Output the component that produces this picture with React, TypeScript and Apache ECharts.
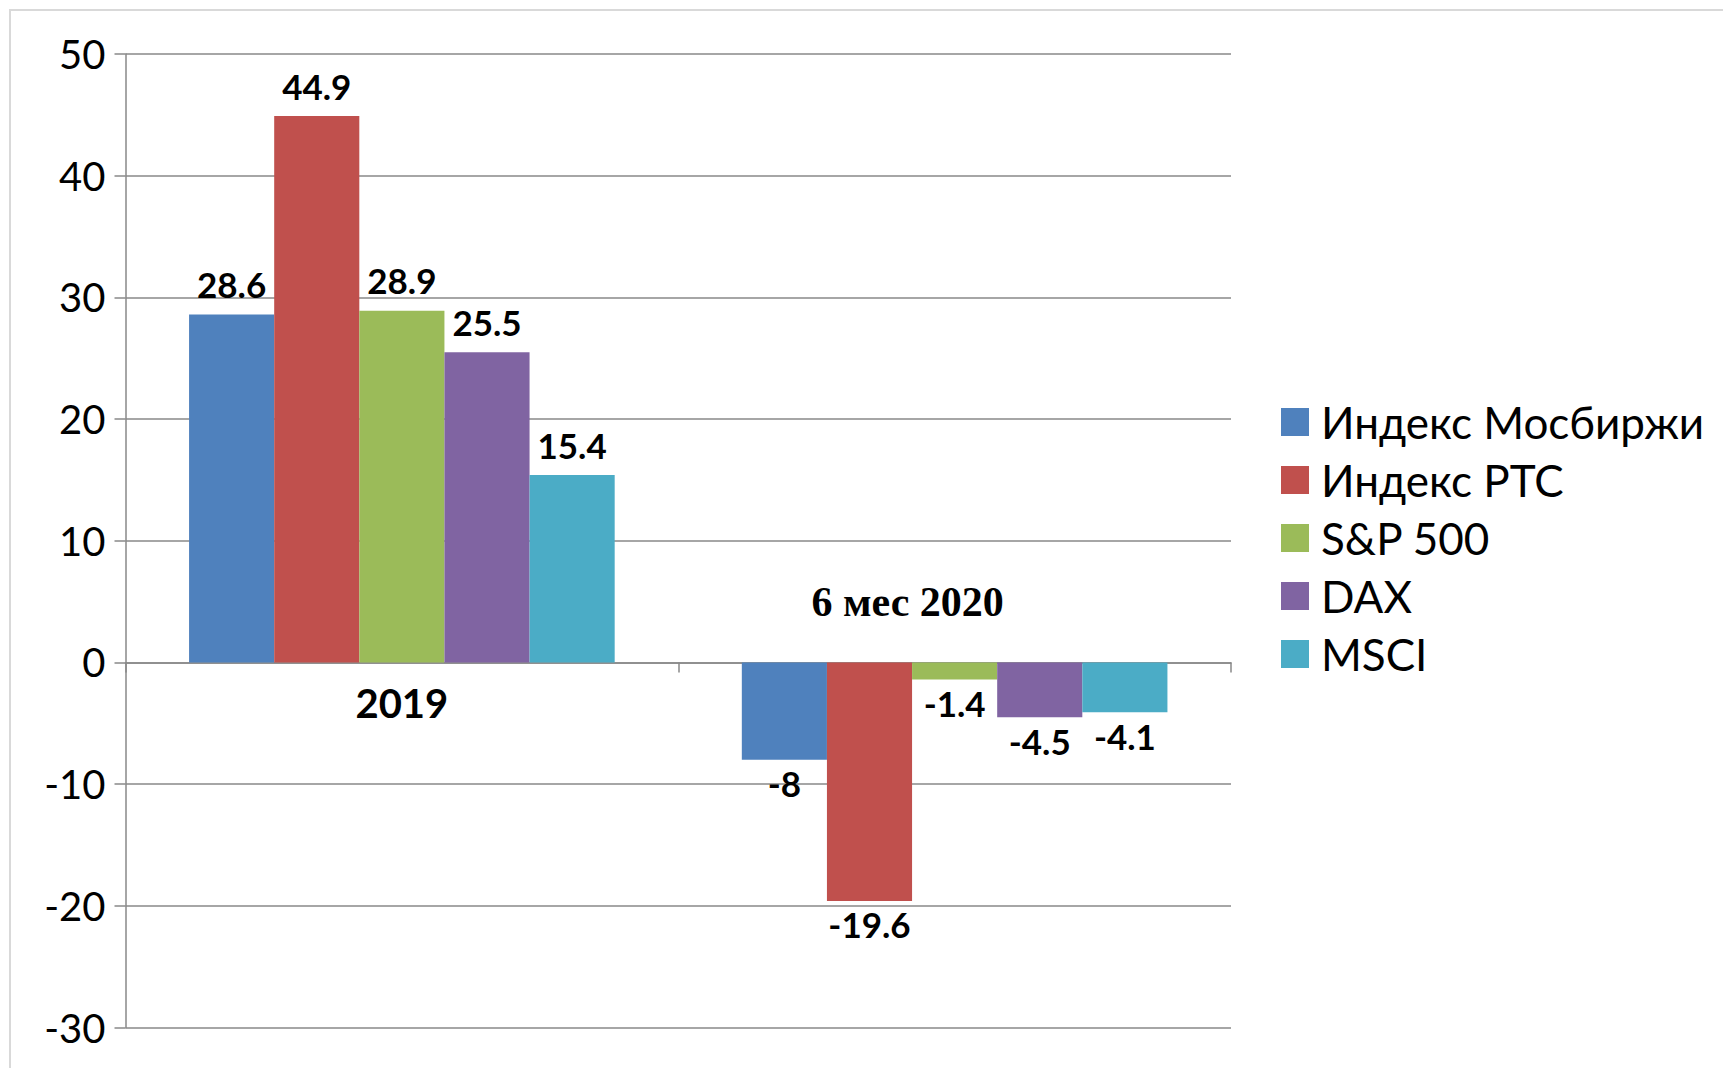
import React, { useEffect, useRef } from "react";
import * as echarts from "echarts";

const categories = ["2019", "6 мес 2020"];
const seriesNames = ["Индекс Мосбиржи", "Индекс РТС", "S&P 500", "DAX", "MSCI"];
const mosbirzha = [28.6, -8];
const rts = [44.9, -19.6];
const sp500 = [28.9, -1.4];
const dax = [25.5, -4.5];
const msci = [15.4, -4.1];
const colors = ["#4F81BD", "#C0504D", "#9BBB59", "#8064A2", "#4BACC6"];
const yMin = -30;
const yMax = 50;
const yInterval = 10;

const allValues = [mosbirzha, rts, sp500, dax, msci];

export default function App() {
  const ref = useRef<HTMLDivElement>(null);
  useEffect(() => {
    if (!ref.current) return;
    const chart = echarts.init(ref.current, null, { renderer: "svg" });
    const axisColor = "#898989";
    const series = allValues.map((vals, i) => ({
      name: seriesNames[i],
      type: "bar",
      barGap: "0%",
      barCategoryGap: "23%",
      itemStyle: { color: colors[i] },
      data: vals.map((v) => ({
        value: v,
        label: {
          position: v >= 0 ? "top" : "bottom",
          distance: v >= 0 ? 13 : 6,
        },
      })),
      label: {
        show: true,
        formatter: "{c}",
        color: "#000",
        fontFamily: "Lato",
        fontWeight: "bold",
        fontSize: 35,
      },
    }));
    chart.setOption({
      animation: false,
      backgroundColor: "#fff",
      grid: {
        left: 125.5,
        right: 492,
        top: 54,
        bottom: 40.5,
        containLabel: false,
        outerBoundsMode: "none",
      },
      legend: {
        orient: "vertical",
        left: 1276,
        top: 395,
        icon: "rect",
        itemWidth: 28,
        itemHeight: 28,
        itemGap: 14,
        selectedMode: false,
        data: seriesNames,
        textStyle: {
          fontFamily: "Lato",
          fontSize: 44,
          lineHeight: 41,
          color: "#000",
          padding: [0, 0, 0, 7],
        },
      },
      xAxis: {
        type: "category",
        data: categories,
        axisLine: { onZero: true, lineStyle: { color: axisColor, width: 1.5 } },
        axisTick: { show: true, length: 10, lineStyle: { color: axisColor, width: 1.5 } },
        axisLabel: { show: false },
        splitLine: { show: false },
      },
      yAxis: {
        type: "value",
        min: yMin,
        max: yMax,
        interval: yInterval,
        axisLine: { show: true, lineStyle: { color: axisColor, width: 1.5 } },
        axisTick: { show: true, length: 11, lineStyle: { color: axisColor, width: 1.5 } },
        axisLabel: {
          margin: 20,
          fontFamily: "Lato",
          fontSize: 40,
          color: "#000",
        },
        splitLine: { show: true, lineStyle: { color: axisColor, width: 1.5 } },
      },
      series,
    });
    const p0 = chart.convertToPixel({ xAxisIndex: 0, yAxisIndex: 0 } as any, [categories[0], 0]) as number[];
    const p1 = chart.convertToPixel({ xAxisIndex: 0, yAxisIndex: 0 } as any, [categories[1], 0]) as number[];
    chart.setOption({
      graphic: [
        {
          type: "rect",
          silent: true,
          z: -10,
          shape: { x: 10, y: 10, width: 1800, height: 1100 },
          style: { fill: "none", stroke: "#d9d9d9", lineWidth: 2 },
        },
        {
          type: "text",
          x: p0[0],
          y: p0[1] + 41,
          style: {
            text: categories[0],
            fontFamily: "Lato",
            fontWeight: "bold",
            fontSize: 40,
            fill: "#000",
            align: "center",
            verticalAlign: "middle",
          },
        },
        {
          type: "text",
          x: p1[0] - 47,
          y: p1[1] - 60,
          style: {
            text: categories[1],
            fontFamily: "Liberation Serif",
            fontWeight: "bold",
            fontSize: 42,
            fill: "#000",
            align: "center",
            verticalAlign: "middle",
          },
        },
      ],
    });
    return () => chart.dispose();
  }, []);
  return (
    <div
      ref={ref}
      style={{ position: "absolute", left: 0, top: 0, width: 1723, height: 1068 }}
    />
  );
}
